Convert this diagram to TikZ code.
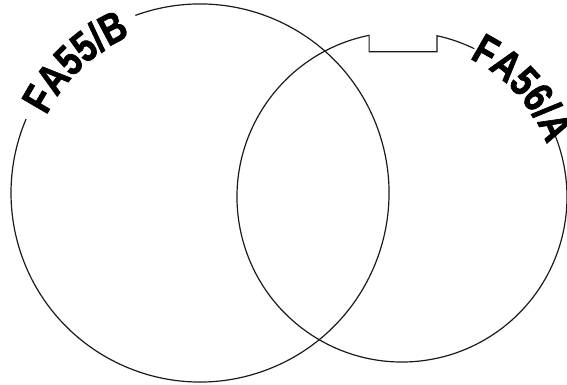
\documentclass[tikz,border=0pt]{standalone}
\usepackage{fontspec}
\usepackage{tikz}
\usetikzlibrary{decorations.text}
\newfontfamily\ringfont[FakeStretch=0.8,BoldFeatures={FakeBold=1.6}]{Liberation Sans}
\definecolor{RingLine}{HTML}{1A1A1A}
\tikzset{
  ringline/.style={draw=RingLine,line width=1.2pt},
  ringtext/.style={decorate,decoration={text along path,text align=center,
    text={|\ringfont\bfseries\fontsize{43}{43}\selectfont|#1}}}
}
\begin{document}
\begin{tikzpicture}[x=1pt,y=1pt]
\path[use as bounding box] (0,0) rectangle (567,385);
\coordinate (lc) at (200,192);
\coordinate (rc) at (402,188);
% left ring, open where the label sits
\draw[ringline] ([shift={(110:189)}]lc) arc[start angle=110,end angle=-203,radius=189];
\path[ringtext={FA55/B}] ([shift={(160:172)}]lc) arc[start angle=160,end angle=107,radius=172];
% right ring with the key notch
\coordinate (notchR) at ([shift={(77.75:165)}]rc);
\coordinate (notchL) at ([shift={(101.5:165)}]rc);
\draw[ringline] ([shift={(64:165)}]rc) arc[start angle=64,end angle=77.75,radius=165]
  -- ++(0,-16) -| (notchL) arc[start angle=101.5,end angle=387,radius=165];
\path[ringtext={FA56/A}] ([shift={(66:154)}]rc) arc[start angle=66,end angle=18,radius=154];
\end{tikzpicture}
\end{document}
